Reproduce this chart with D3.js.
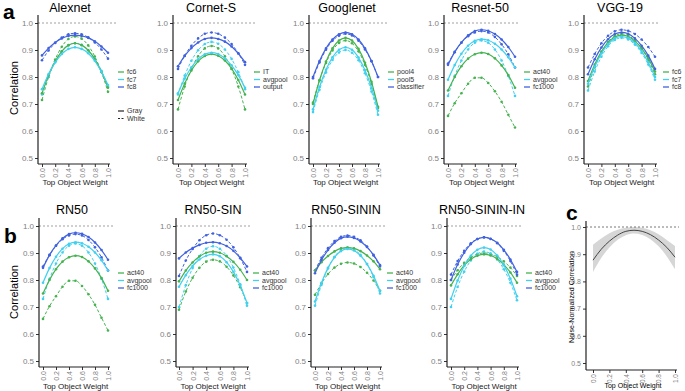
<!DOCTYPE html>
<html>
<head>
<meta charset="utf-8">
<script src="https://cdn.jsdelivr.net/npm/d3@7"></script>
<style>
  body { margin: 0; background: #fff; }
  text { font-family: "Liberation Sans", Arial, sans-serif; }
</style>
</head>
<body>
<svg id="chart" width="685" height="391"></svg>
<script>
const weights = [0, 0.1, 0.2, 0.3, 0.4, 0.5, 0.6, 0.7, 0.8, 0.9, 1.0];
const yTicks = [0.5, 0.6, 0.7, 0.8, 0.9, 1.0];
const xTicks = [0, 0.2, 0.4, 0.6, 0.8, 1.0];
const conditions = ["Gray", "White"];

// Alexnet
const alexnetLayers = ["fc6", "fc7", "fc8"];
const alexnetGray = [
  [0.74, 0.807, 0.858, 0.895, 0.918, 0.925, 0.918, 0.899, 0.866, 0.819, 0.76],
  [0.755, 0.811, 0.854, 0.885, 0.904, 0.91, 0.904, 0.888, 0.86, 0.82, 0.77],
  [0.88, 0.907, 0.928, 0.943, 0.952, 0.955, 0.952, 0.945, 0.932, 0.913, 0.89],
];
const alexnetWhite = [
  [0.715, 0.8, 0.865, 0.912, 0.941, 0.95, 0.942, 0.917, 0.876, 0.819, 0.745],
  [0.735, 0.803, 0.857, 0.895, 0.917, 0.925, 0.919, 0.899, 0.867, 0.823, 0.765],
  [0.862, 0.898, 0.926, 0.946, 0.958, 0.962, 0.958, 0.947, 0.928, 0.902, 0.868],
];

// Cornet-S
const cornetLayers = ["IT", "avgpool", "output"];
const cornetGray = [
  [0.715, 0.776, 0.824, 0.858, 0.878, 0.885, 0.879, 0.861, 0.831, 0.789, 0.735],
  [0.74, 0.794, 0.836, 0.866, 0.884, 0.89, 0.885, 0.869, 0.843, 0.807, 0.76],
  [0.84, 0.878, 0.907, 0.928, 0.941, 0.945, 0.941, 0.931, 0.913, 0.887, 0.855],
];
const cornetWhite = [
  [0.68, 0.765, 0.83, 0.877, 0.906, 0.915, 0.906, 0.877, 0.83, 0.765, 0.68],
  [0.735, 0.805, 0.86, 0.899, 0.922, 0.93, 0.923, 0.902, 0.867, 0.818, 0.755],
  [0.83, 0.879, 0.916, 0.943, 0.96, 0.965, 0.96, 0.946, 0.922, 0.888, 0.845],
];

// Googlenet
const googlenetLayers = ["pool4", "pool5", "classifier"];
const googlenetGray = [
  [0.70, 0.788, 0.857, 0.906, 0.935, 0.945, 0.935, 0.904, 0.853, 0.782, 0.69],
  [0.68, 0.763, 0.827, 0.873, 0.901, 0.91, 0.901, 0.872, 0.825, 0.76, 0.675],
  [0.80, 0.859, 0.906, 0.939, 0.958, 0.965, 0.958, 0.939, 0.906, 0.859, 0.80],
];
const googlenetWhite = [
  [0.705, 0.788, 0.852, 0.898, 0.926, 0.935, 0.925, 0.895, 0.845, 0.775, 0.685],
  [0.67, 0.753, 0.817, 0.863, 0.891, 0.90, 0.89, 0.862, 0.814, 0.746, 0.66],
  [0.795, 0.854, 0.901, 0.934, 0.953, 0.96, 0.954, 0.934, 0.902, 0.858, 0.80],
];

// Resnet-50 / RN50
const resnetLayers = ["act40", "avgpool", "fc1000"];
const resnetGray = [
  [0.75, 0.80, 0.84, 0.868, 0.884, 0.89, 0.885, 0.869, 0.843, 0.807, 0.76],
  [0.79, 0.844, 0.886, 0.916, 0.934, 0.94, 0.936, 0.923, 0.902, 0.873, 0.835],
  [0.845, 0.892, 0.928, 0.954, 0.97, 0.975, 0.971, 0.959, 0.939, 0.911, 0.875],
];
const resnetWhite = [
  [0.656, 0.703, 0.74, 0.775, 0.797, 0.797, 0.778, 0.747, 0.708, 0.66, 0.613],
  [0.73, 0.804, 0.861, 0.902, 0.927, 0.935, 0.927, 0.902, 0.861, 0.804, 0.73],
  [0.85, 0.893, 0.927, 0.951, 0.965, 0.97, 0.965, 0.948, 0.921, 0.884, 0.835],
];

// VGG-19
const vggLayers = ["fc6", "fc7", "fc8"];
const vggGray = [
  [0.785, 0.846, 0.894, 0.928, 0.948, 0.955, 0.95, 0.933, 0.906, 0.869, 0.82],
  [0.775, 0.838, 0.887, 0.922, 0.943, 0.95, 0.944, 0.926, 0.896, 0.854, 0.80],
  [0.81, 0.866, 0.909, 0.94, 0.959, 0.965, 0.96, 0.943, 0.916, 0.879, 0.83],
];
const vggWhite = [
  [0.765, 0.835, 0.89, 0.929, 0.952, 0.96, 0.954, 0.936, 0.906, 0.864, 0.81],
  [0.75, 0.82, 0.875, 0.914, 0.937, 0.945, 0.939, 0.92, 0.889, 0.846, 0.79],
  [0.835, 0.885, 0.925, 0.953, 0.969, 0.975, 0.971, 0.959, 0.939, 0.911, 0.875],
];

// RN50-SIN
const sinGray = [
  [0.795, 0.835, 0.865, 0.887, 0.901, 0.905, 0.901, 0.888, 0.867, 0.838, 0.80],
  [0.775, 0.818, 0.852, 0.876, 0.89, 0.895, 0.888, 0.866, 0.83, 0.78, 0.715],
  [0.88, 0.902, 0.918, 0.93, 0.938, 0.94, 0.936, 0.926, 0.908, 0.882, 0.85],
];
const sinWhite = [
  [0.69, 0.757, 0.808, 0.845, 0.868, 0.875, 0.869, 0.849, 0.817, 0.773, 0.715],
  [0.70, 0.781, 0.844, 0.889, 0.916, 0.925, 0.916, 0.89, 0.846, 0.784, 0.705],
  [0.815, 0.872, 0.915, 0.947, 0.966, 0.972, 0.966, 0.949, 0.921, 0.881, 0.83],
];

// RN50-SININ
const sininGray = [
  [0.835, 0.866, 0.889, 0.906, 0.917, 0.92, 0.917, 0.907, 0.891, 0.869, 0.84],
  [0.72, 0.79, 0.845, 0.884, 0.907, 0.915, 0.909, 0.89, 0.859, 0.816, 0.76],
  [0.825, 0.874, 0.911, 0.938, 0.955, 0.96, 0.956, 0.943, 0.922, 0.893, 0.855],
];
const sininWhite = [
  [0.745, 0.788, 0.822, 0.846, 0.86, 0.865, 0.861, 0.848, 0.827, 0.798, 0.76],
  [0.705, 0.782, 0.843, 0.886, 0.911, 0.92, 0.913, 0.893, 0.859, 0.811, 0.75],
  [0.835, 0.882, 0.918, 0.944, 0.96, 0.965, 0.96, 0.947, 0.924, 0.891, 0.85],
];

// RN50-SININ-IN
const sininInGray = [
  [0.78, 0.821, 0.854, 0.877, 0.89, 0.895, 0.891, 0.878, 0.857, 0.828, 0.79],
  [0.73, 0.798, 0.852, 0.89, 0.912, 0.92, 0.913, 0.891, 0.855, 0.805, 0.74],
  [0.80, 0.857, 0.901, 0.933, 0.952, 0.958, 0.953, 0.938, 0.912, 0.876, 0.83],
];
const sininInWhite = [
  [0.80, 0.836, 0.864, 0.884, 0.896, 0.90, 0.897, 0.886, 0.869, 0.846, 0.815],
  [0.70, 0.774, 0.831, 0.872, 0.897, 0.905, 0.898, 0.876, 0.84, 0.79, 0.725],
  [0.82, 0.87, 0.908, 0.936, 0.952, 0.958, 0.952, 0.936, 0.908, 0.87, 0.82],
];

// panel c: noise-normalized correlation with band
const cMean  = [0.878, 0.918, 0.948, 0.97, 0.984, 0.988, 0.984, 0.972, 0.952, 0.925, 0.889];
const cUpper = [0.935, 0.958, 0.977, 0.99, 0.997, 1.0, 0.997, 0.988, 0.973, 0.952, 0.93];
const cLower = [0.835, 0.886, 0.925, 0.953, 0.97, 0.976, 0.971, 0.955, 0.929, 0.892, 0.845];

const colors = ["#45b34f", "#40d0f0", "#4162e0"];

const svg = d3.select("#chart");
const fmt = d3.format(".1f");

const rowA = { y10: 23, y05: 158, top: 15, bottom: 164, title: 12, legY: [72, 79.5, 87], xTitle: 185 };
const rowB = { y10: 226, y05: 361, top: 218, bottom: 367, title: 214, legY: [273, 280.5, 288], xTitle: 389 };

const panels = [
  { name: "Alexnet", row: rowA, ax: 38, x0: 42, x1: 108, right: 118, tx: 70, lx: 127, layers: alexnetLayers, gray: alexnetGray, white: alexnetWhite, condLegend: true },
  { name: "Cornet-S", row: rowA, ax: 173, x0: 178, x1: 245, right: 256, tx: 211, lx: 263, layers: cornetLayers, gray: cornetGray, white: cornetWhite },
  { name: "Googlenet", row: rowA, ax: 309, x0: 313, x1: 378, right: 389, tx: 347, lx: 397, layers: googlenetLayers, gray: googlenetGray, white: googlenetWhite },
  { name: "Resnet-50", row: rowA, ax: 444, x0: 448, x1: 515, right: 519, tx: 480, lx: 533, layers: resnetLayers, gray: resnetGray, white: resnetWhite },
  { name: "VGG-19", row: rowA, ax: 584, x0: 588, x1: 655, right: 658, tx: 620, lx: 672, layers: vggLayers, gray: vggGray, white: vggWhite },
  { name: "RN50", row: rowB, ax: 39, x0: 43, x1: 108, right: 115, tx: 72, lx: 127, layers: resnetLayers, gray: resnetGray, white: resnetWhite },
  { name: "RN50-SIN", row: rowB, ax: 176, x0: 179, x1: 247, right: 250, tx: 213, lx: 262, layers: resnetLayers, gray: sinGray, white: sinWhite },
  { name: "RN50-SININ", row: rowB, ax: 311, x0: 315, x1: 380, right: 385, tx: 346, lx: 396, layers: resnetLayers, gray: sininGray, white: sininWhite },
  { name: "RN50-SININ-IN", row: rowB, ax: 447, x0: 451, x1: 517, right: 522, tx: 482, lx: 535, layers: resnetLayers, gray: sininInGray, white: sininInWhite },
];

function drawAxes(g, x, y, p, top, bottom, ySize, xSize) {
  g.append("g")
    .attr("transform", `translate(${p.ax},0)`)
    .call(d3.axisLeft(y).tickValues(yTicks).tickFormat(fmt).tickSize(3).tickPadding(2))
    .call((a) => a.select(".domain").remove())
    .call((a) => a.selectAll("text").attr("fill", "#7f7f7f").style("font-size", ySize + "px"))
    .call((a) => a.selectAll(".tick line").attr("stroke", "#333"));
  g.append("g")
    .attr("transform", `translate(0,${bottom})`)
    .call(d3.axisBottom(x).tickValues(xTicks).tickFormat(fmt).tickSize(3))
    .call((a) => a.select(".domain").remove())
    .call((a) => a.selectAll(".tick line").attr("stroke", "#333"))
    .call((a) =>
      a.selectAll("text")
        .attr("fill", "#7f7f7f")
        .style("font-size", xSize + "px")
        .attr("transform", "rotate(-90)")
        .attr("x", -4)
        .attr("y", 0)
        .attr("dy", "0.35em")
        .attr("text-anchor", "end")
    );
  g.append("line").attr("x1", p.ax).attr("x2", p.ax).attr("y1", top).attr("y2", bottom)
    .attr("stroke", "#222").attr("stroke-width", 1.2);
  g.append("line").attr("x1", p.ax).attr("x2", p.x1 + 2).attr("y1", bottom).attr("y2", bottom)
    .attr("stroke", "#222").attr("stroke-width", 1.2);
}

panels.forEach((p) => {
  const r = p.row;
  const x = d3.scaleLinear().domain([0, 1]).range([p.x0, p.x1]);
  const y = d3.scaleLinear().domain([0.5, 1]).range([r.y05, r.y10]);
  const g = svg.append("g");

  g.append("line")
    .attr("x1", p.ax).attr("x2", p.right)
    .attr("y1", y(1)).attr("y2", y(1))
    .attr("stroke", "#888").attr("stroke-width", 0.8).attr("stroke-dasharray", "2,2");

  const line = d3.line().x((d, i) => x(weights[i])).y((d) => y(d)).curve(d3.curveMonotoneX);

  [p.white, p.gray].forEach((set, k) => {
    const dashed = k === 0;
    set.forEach((vals, li) => {
      g.append("path")
        .datum(vals)
        .attr("d", line)
        .attr("fill", "none")
        .attr("stroke", colors[li])
        .attr("stroke-width", dashed ? 1 : 1.2)
        .attr("stroke-dasharray", dashed ? "3,2" : null);
      g.selectAll(null)
        .data(vals)
        .join("circle")
        .attr("cx", (d, i) => x(weights[i]))
        .attr("cy", (d) => y(d))
        .attr("r", 1.3)
        .attr("fill", colors[li]);
    });
  });

  drawAxes(g, x, y, p, r.top, r.bottom, 8, 7);

  g.append("text")
    .attr("x", p.tx).attr("y", r.title)
    .attr("text-anchor", "middle")
    .style("font-size", "12.5px")
    .text(p.name);

  g.append("text")
    .attr("x", (p.x0 + p.x1) / 2).attr("y", r.xTitle)
    .attr("text-anchor", "middle")
    .style("font-size", "8px")
    .attr("fill", "#222")
    .text("Top Object Weight");

  // layer legend
  p.layers.forEach((name, li) => {
    const ly = r.legY[li];
    g.append("line")
      .attr("x1", p.lx - 9).attr("x2", p.lx - 3)
      .attr("y1", ly).attr("y2", ly)
      .attr("stroke", colors[li]).attr("stroke-width", 1.3);
    g.append("text")
      .attr("x", p.lx).attr("y", ly).attr("dy", "0.35em")
      .style("font-size", "7px").attr("fill", "#333")
      .text(name);
  });

  if (p.condLegend) {
    conditions.forEach((name, k) => {
      const ly = [111, 118.5][k];
      g.append("line")
        .attr("x1", p.lx - 9).attr("x2", p.lx - 3)
        .attr("y1", ly).attr("y2", ly)
        .attr("stroke", "#222").attr("stroke-width", 1.2)
        .attr("stroke-dasharray", k === 1 ? "2,1.5" : null);
      g.append("text")
        .attr("x", p.lx).attr("y", ly).attr("dy", "0.35em")
        .style("font-size", "7px").attr("fill", "#333")
        .text(name);
    });
  }
});

// y titles
[{ y: 88 }, { y: 292 }].forEach((t) => {
  svg.append("text")
    .attr("transform", `translate(18,${t.y}) rotate(-90)`)
    .attr("text-anchor", "middle")
    .style("font-size", "11px")
    .text("Correlation");
});

// panel c
(function () {
  const p = { ax: 586, x0: 593, x1: 675, right: 679 };
  const x = d3.scaleLinear().domain([0, 1]).range([p.x0, p.x1]);
  const y = d3.scaleLinear().domain([0.5, 1]).range([363, 227]);
  const g = svg.append("g");
  const area = d3.area().x((d, i) => x(weights[i])).y0((d, i) => y(cLower[i])).y1((d) => y(d)).curve(d3.curveMonotoneX);
  g.append("path").datum(cUpper).attr("d", area).attr("fill", "#d6d6d6");
  g.append("line")
    .attr("x1", p.ax).attr("x2", p.right)
    .attr("y1", y(1)).attr("y2", y(1))
    .attr("stroke", "#555").attr("stroke-width", 0.8).attr("stroke-dasharray", "2,2");
  const line = d3.line().x((d, i) => x(weights[i])).y((d) => y(d)).curve(d3.curveMonotoneX);
  g.append("path").datum(cMean).attr("d", line).attr("fill", "none").attr("stroke", "#444").attr("stroke-width", 1);
  drawAxes(g, x, y, p, 221, 370, 7, 6.5);
  g.append("text")
    .attr("transform", `translate(574,297) rotate(-90)`)
    .attr("text-anchor", "middle")
    .style("font-size", "7px")
    .text("Noise-Normalized Correlation");
  g.append("text")
    .attr("x", 633).attr("y", 388)
    .attr("text-anchor", "middle")
    .style("font-size", "7px")
    .text("Top Object Weight");
})();

// panel letters
[["a", 3, 19], ["b", 4, 243], ["c", 566, 220]].forEach(([t, lx, ly]) => {
  svg.append("text")
    .attr("x", lx).attr("y", ly)
    .style("font-size", "21px")
    .style("font-weight", "bold")
    .text(t);
});
</script>
</body>
</html>
